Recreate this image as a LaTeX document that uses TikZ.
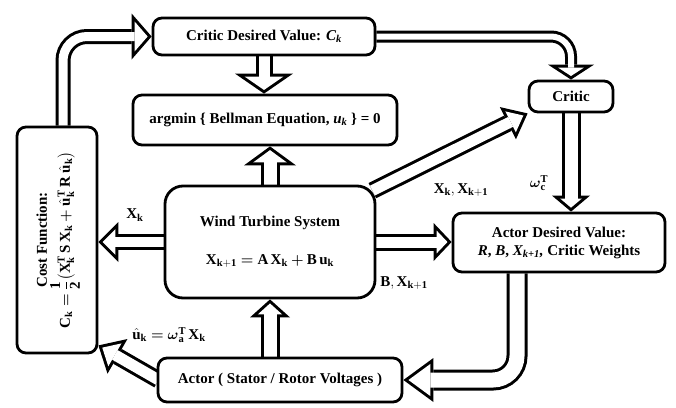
\documentclass[tikz,border=0pt]{standalone}
\usepackage{amsmath}
\usepackage{fontspec}
\setmainfont{Liberation Serif}
\usetikzlibrary{arrows.meta,backgrounds}

\newcommand{\beq}{\mathrel{\boldsymbol{=}}}
\newcommand{\bplus}{\mathbin{\boldsymbol{+}}}

% hollow block arrow: {inner shaft width}{head length}{head width}
\tikzset{
  blockarrow/.code n args={3}{%
    \pgfmathsetmacro\hd{3*sqrt(1+(2*#2/#3)^2)}%
    \pgfmathsetmacro\hl{#2-3-\hd}%
    \pgfmathsetmacro\hw{#3*\hl/#2}%
    \pgfmathsetmacro\ow{#1+6}%
    \edef\blockopts{preaction={draw=black,line width=\ow pt,shorten >=0pt,
        -{Triangle[length=#2pt,width=#3pt,line width=0pt]}},
      draw=white,line width=#1pt,shorten >=\hd pt,
      -{Triangle[length=\hl pt,width=\hw pt,line width=0pt]}}%
    \expandafter\tikzset\expandafter{\blockopts}%
  },
}

\begin{document}
\begin{tikzpicture}[x=1pt,y=-1pt,font=\fontsize{15}{18}\selectfont\bfseries,
  box/.style={draw,line width=2.8pt,rounded corners=9pt,fill=white,align=center,inner sep=2pt}]
\useasboundingbox (0,0) rectangle (676,407);

% ============ blocks ============
\node[box,minimum width=222pt,minimum height=37pt] (cdv) at (264,36.5) {Critic Desired Value: \textit{C\textsubscript{k}}};
\node[box,minimum width=264pt,minimum height=50pt] (argmin) at (265,120) {argmin \{ Bellman Equation, \textit{u\textsubscript{k}} \} = 0};
\node[box,minimum width=84pt,minimum height=31pt] (critic) at (571,96.5) {Critic};
\node[box,minimum width=80pt,minimum height=226pt] (cost) at (57,240) {\rotatebox{90}{\begin{tabular}{@{}c@{}}Cost Function:\\[-2pt]
  $\mathbf{C_k} \beq \dfrac{\mathbf 1}{\mathbf 2}\boldsymbol{\big(}\mathbf{X_k^T\,S\,X_k} \bplus \hat{\mathbf u}_{\mathbf k}^{\mathbf T}\,\mathbf{R}\;\hat{\mathbf u}_{\mathbf k}\boldsymbol{\big)}$\end{tabular}}};
\node[box,rounded corners=18pt,minimum width=210pt,minimum height=112pt] (wts) at (270,242) {Wind Turbine System\\[20pt]
  $\mathbf{X_{k+1}} \beq \mathbf{A\,X_k} \bplus \mathbf{B\,u_k}$};
\node[box,minimum width=212pt,minimum height=59pt] (adv) at (559,242.5) {Actor Desired Value:\\
  \textit{R}, \textit{B}, \textit{X\textsubscript{k+1},} Critic Weights};
\node[box,minimum width=244pt,minimum height=44pt] (actor) at (280,380) {Actor ( Stator / Rotor Voltages )};

% ============ labels ============
\node (lxk) at (135,215) {$\mathbf{X_k}$};
\node (lxx) at (461,190) {$\mathbf{X_k, X_{k+1}}$};
\node (lbx) at (404,283) {$\mathbf{B, X_{k+1}}$};
\node (lwc) at (539,183) {$\boldsymbol{\omega}_{\mathbf c}^{\mathbf T}$};
\node (lua) at (169,335) {$\hat{\mathbf u}_{\mathbf k} \beq \boldsymbol{\omega}_{\mathbf a}^{\mathbf T}\,\mathbf{X_k}$};

% ============ arrows ============
\begin{scope}[on background layer]
\draw[blockarrow={9}{20}{46},rounded corners=24pt] ([xshift=6pt]cost.north) |- (cdv.west);
\draw[blockarrow={11}{20}{58}] (cdv.south) -- (cdv.south |- argmin.north);
\draw[blockarrow={6}{15}{46},rounded corners=20pt] (cdv.east) -| (critic.north);
\draw[blockarrow={13}{19}{52}] (wts.north) -- (wts.north |- argmin.south);
\draw[blockarrow={10}{20}{40}] (wts.west) -- (wts.west -| cost.east);
\draw[blockarrow={11}{22}{36}] ([shift={(-4pt,-6pt)}]wts.north east) -- (critic.south west);
\draw[blockarrow={11}{18}{38}] (wts.east) -- (wts.east -| adv.west);
\draw[blockarrow={13}{16}{38}] (critic.south) -- (critic.south |- adv.north);
\draw[blockarrow={15}{30}{44},rounded corners=24pt] ([xshift=-42pt]adv.south) |- (actor.east);
\draw[blockarrow={13}{18}{40}] (wts.south |- actor.north) -- (wts.south);
\draw[blockarrow={11}{22}{40}] ([xshift=2pt]actor.west) -- ([yshift=9pt]cost.south east);
\end{scope}

\end{tikzpicture}
\end{document}
